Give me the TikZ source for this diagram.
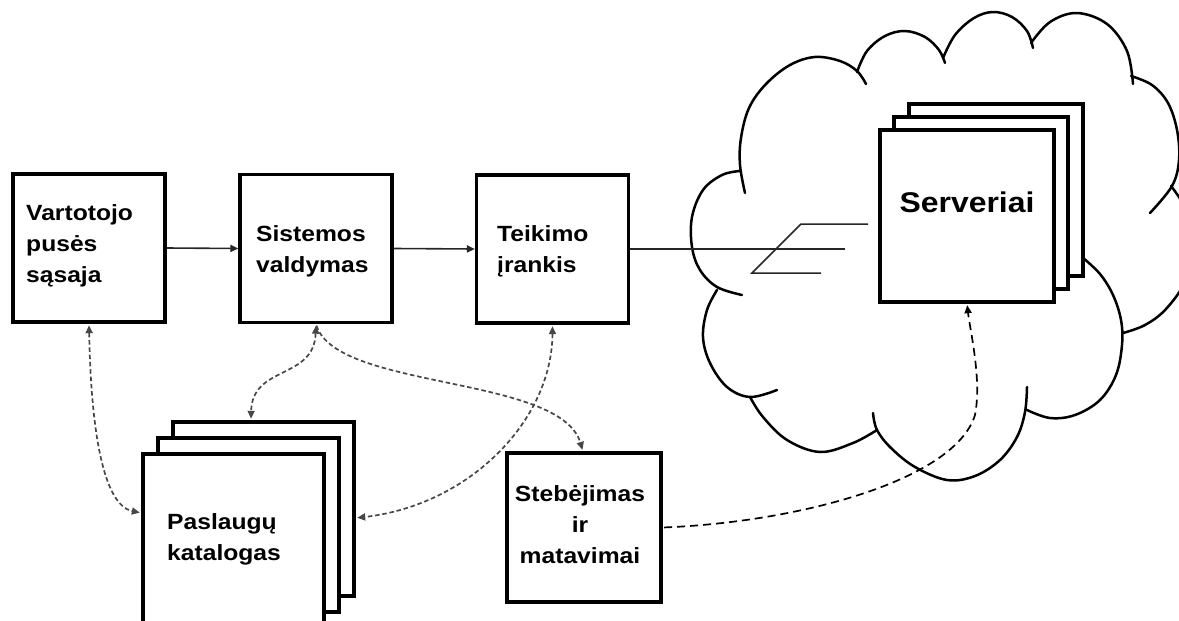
\documentclass[tikz,border=0pt]{standalone}
\usepackage{fontspec}
\setmainfont{Liberation Sans}[FakeStretch=1.12]
\usetikzlibrary{arrows.meta}
\begin{document}
\begin{tikzpicture}[x=1pt,y=-1pt,
  >={Triangle[length=8pt,width=7pt]},
  box/.style={draw=black, line width=3.2pt, fill=white, inner sep=0pt},
  smallbox/.style={box, minimum width=152pt, minimum height=148pt},
  stackbox/.style={box, minimum width=181pt, minimum height=174pt},
  srvbox/.style={box, minimum width=174pt, minimum height=172pt},
  lbl/.style={font=\fontsize{22}{31}\selectfont\bfseries, align=left, inner sep=0pt},
  flow/.style={->, line width=1.6pt, black!85},
  dlink/.style={line width=1.7pt, black!72, dash pattern=on 4.5pt off 2.8pt},
  mlink/.style={line width=1.7pt, black, dash pattern=on 8pt off 5pt},
  cloudline/.style={line width=2.5pt, line cap=round, line join=round},
  thin/.style={line width=1.5pt, black!85},
]
\useasboundingbox (0,0) rectangle (1179,621);
\begin{scope}
\clip (0,0) rectangle (1179,621);

% cloud outline, one arc per bump
\draw[cloudline] plot[smooth, tension=0.6] coordinates {(745,193) (740,165) (741,138) (749,108) (766,84) (790,65) (815,57) (840,61) (857,71) (866,84)};
\draw[cloudline] plot[smooth, tension=0.6] coordinates {(857,72) (867,51) (885,36) (905,31) (925,37) (939,50) (945,63)};
\draw[cloudline] plot[smooth, tension=0.6] coordinates {(943,58) (955,35) (974,18) (993,12) (1012,17) (1027,31) (1033,48)};
\draw[cloudline] plot[smooth, tension=0.6] coordinates {(1031,43) (1050,22) (1077,13) (1107,24) (1127,51) (1133,84)};
\draw[cloudline] plot[smooth, tension=0.6] coordinates {(1131,76) (1152,85) (1168,103) (1177,130) (1179,160) (1172,186) (1150,213)};
\draw[cloudline] plot[smooth, tension=0.6] coordinates {(1171,186) (1186,210) (1193,245) (1186,280) (1166,309) (1145,325) (1123,333)};
\draw[cloudline] plot[smooth, tension=0.6] coordinates {(1082,257) (1100,274) (1113,295) (1121,320) (1122,345) (1116,375) (1100,400) (1075,415) (1050,418) (1027,410)};
\draw[cloudline] plot[smooth, tension=0.6] coordinates {(1027,387) (1025,412) (1017,437) (1000,460) (975,476) (947,480) (915,467) (891,448) (877,430) (873,413)};
\draw[cloudline] plot[smooth, tension=0.6] coordinates {(877,430) (853,443) (820,452) (787,440) (763,417) (750,397)};
\draw[cloudline] plot[smooth, tension=0.6] coordinates {(717,290) (707,310) (703,337) (710,363) (727,387) (750,397) (777,390)};
\draw[cloudline] plot[smooth, tension=0.6] coordinates {(740,171) (722,175) (703,190) (692,217) (692,247) (700,270) (717,287) (742,295)};

% server stack
\node[srvbox] (sb) at (996,190) {};
\node[srvbox] (sm) at (981,203) {};
\node[srvbox] (sf) at (967,216) {};
\node[inner sep=0pt, font=\fontsize{28.5}{34}\selectfont\bfseries, anchor=base] (tsrv) at (967,212) {Serveriai};

% catalogue stack
\node[stackbox] (cb) at (263.5,509) {};
\node[stackbox] (cm) at (248.5,525) {};
\node[stackbox] (cf) at (233.5,541) {};
\node[lbl, anchor=base west] (tcat) at (167,560) {Paslaugų\\katalogas};

% single boxes
\node[smallbox] (b1) at (89,248) {};
\node[smallbox] (b2) at (316,248.5) {};
\node[smallbox] (b3) at (552.5,249) {};
\node[box, minimum width=154pt, minimum height=149pt] (st) at (584,527.5) {};
\node[lbl, anchor=base west] (t1) at (26,282) {Vartotojo\\pusės\\sąsaja};
\node[lbl, anchor=base west] (t2) at (256,272) {Sistemos\\valdymas};
\node[lbl, anchor=base west] (t3) at (497,272) {Teikimo\\įrankis};
\node[lbl, align=center, anchor=base] (t4) at (580,563) {Stebėjimas\\ir\\matavimai};

% main flow
\draw[flow] (b1.east) -- (b2.west);
\draw[flow] (b2.east) -- (b3.west);

% link into the cloud
\coordinate (lend) at (845,249);
\coordinate (z1) at (868,224);
\coordinate (z2) at (801,224);
\coordinate (z3) at (752,273);
\coordinate (z4) at (821,273);
\draw[thin] (b3.east) -- (lend);
\draw[thin] (z1) -- (z2) -- (z3) -- (z4);

% dashed relations
\draw[dlink, <->, shorten <=1.6pt, shorten >=1.6pt] (b1.south) .. controls (91,430) and (103,505) .. ([yshift=28pt]cf.west);
\draw[dlink, <->, shorten <=1.6pt, shorten >=1.6pt] (b2.south) .. controls (314,380) and (252,365) .. ([xshift=-12.5pt]cb.north);
\draw[dlink, ->, shorten <=1.6pt, shorten >=1.6pt] (b2.south) .. controls (337,390) and (560,375) .. ([xshift=-1pt]st.north);
\draw[dlink, <->, shorten <=1.6pt, shorten >=1.6pt] (b3.south) .. controls (552,420) and (470,505) .. ([yshift=-9pt]cb.east);
\draw[mlink, ->, shorten <=1.6pt, shorten >=1.6pt] (st.east) .. controls (800,522) and (955,480) .. (975,415) .. controls (982,380) and (970,330) .. (sf.south);
\end{scope}
\end{tikzpicture}
\end{document}
